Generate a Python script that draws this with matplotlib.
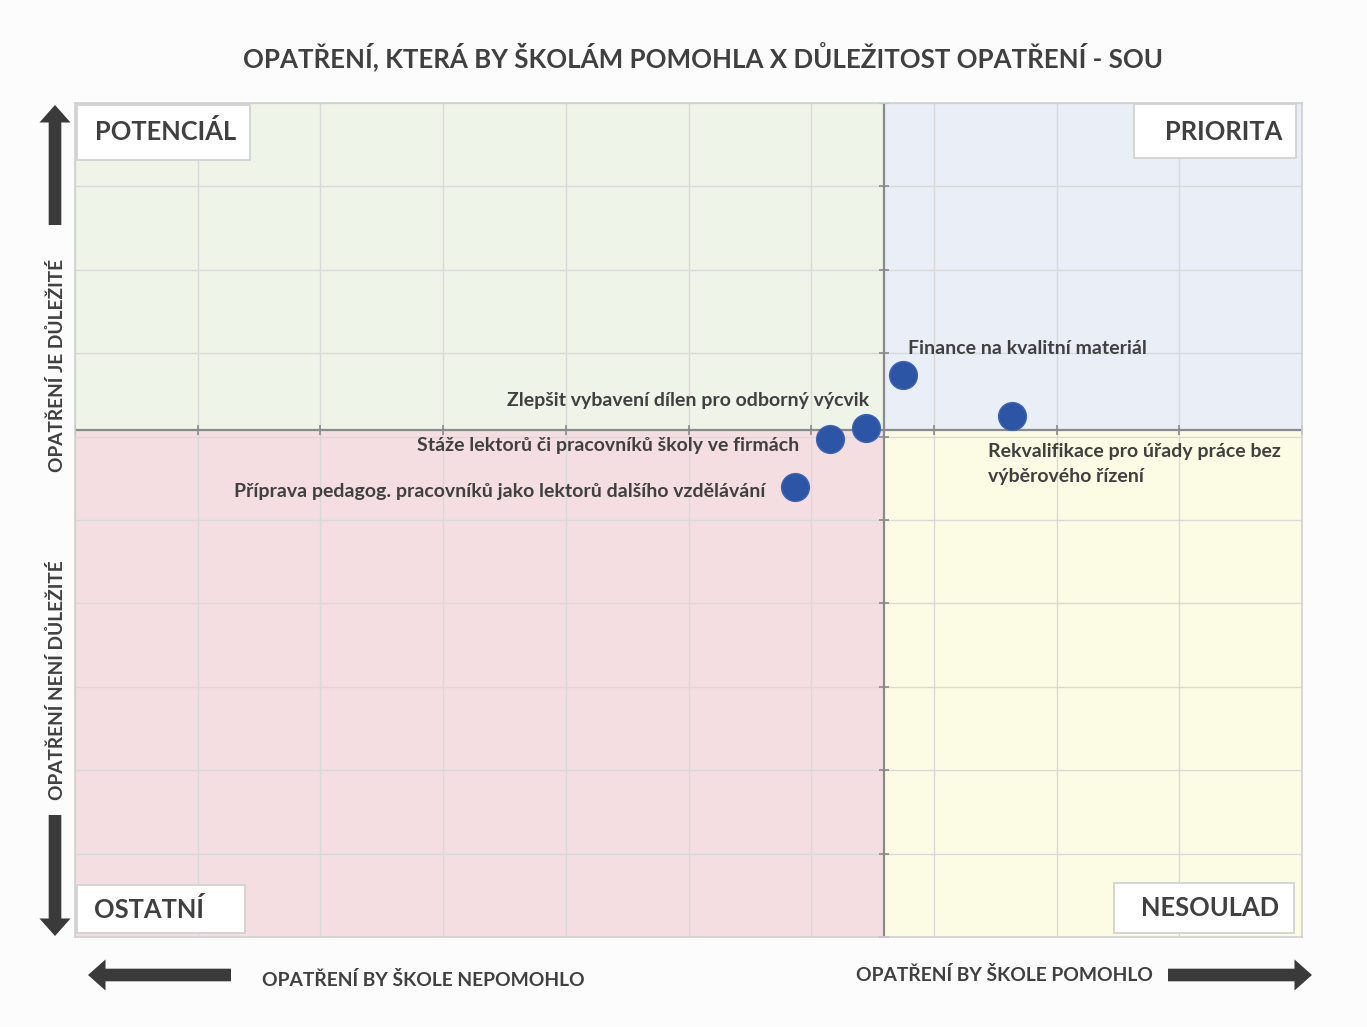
import matplotlib
matplotlib.use("Agg")
import matplotlib.pyplot as plt
from matplotlib.patches import Rectangle

# ---- data ----
title = "OPATŘENÍ, KTERÁ BY ŠKOLÁM POMOHLA X DŮLEŽITOST OPATŘENÍ - SOU"
point_labels = [
    "Finance na kvalitní materiál",
    "Rekvalifikace pro úřady práce bez\nvýběrového řízení",
    "Zlepšit vybavení dílen pro odborný výcvik",
    "Stáže lektorů či pracovníků školy ve firmách",
    "Příprava pedagog. pracovníků jako lektorů dalšího vzdělávání",
]
x_vals = [6.75, 7.64, 6.45, 6.15, 5.87]
y_vals = [6.74, 6.25, 6.10, 5.97, 5.40]
x_range = [0, 10]
y_range = [0, 10]
x_divider = 6.59
y_divider = 6.08
quadrant_names = ["POTENCIÁL", "PRIORITA", "OSTATNÍ", "NESOULAD"]
axis_texts = ["OPATŘENÍ JE DŮLEŽITÉ", "OPATŘENÍ NENÍ DŮLEŽITÉ",
              "OPATŘENÍ BY ŠKOLE NEPOMOHLO", "OPATŘENÍ BY ŠKOLE POMOHLO"]

# ---- style ----
FONT = ["Lato", "DejaVu Sans"]
plt.rcParams["font.family"] = FONT
TXT = "#404040"
W, H = 1367, 1027
fig = plt.figure(figsize=(W / 100, H / 100), dpi=100, facecolor="#FCFCFC")
ax = fig.add_axes([75 / W, 1 - 937 / H, (1302 - 75) / W, (937 - 103) / H])
ax.set_xlim(*x_range)
ax.set_ylim(*y_range)

# quadrant backgrounds
x0, x1 = x_range
y0, y1 = y_range
quad_colors = {"tl": "#EFF4E9", "tr": "#E9EEF7", "bl": "#F5DEE1", "br": "#FCFCE4"}
ax.add_patch(Rectangle((x0, y_divider), x_divider - x0, y1 - y_divider, color=quad_colors["tl"], zorder=0))
ax.add_patch(Rectangle((x_divider, y_divider), x1 - x_divider, y1 - y_divider, color=quad_colors["tr"], zorder=0))
ax.add_patch(Rectangle((x0, y0), x_divider - x0, y_divider - y0, color=quad_colors["bl"], zorder=0))
ax.add_patch(Rectangle((x_divider, y0), x1 - x_divider, y_divider - y0, color=quad_colors["br"], zorder=0))

ax.set_xticks(range(x0, x1 + 1))
ax.set_yticks(range(y0, y1 + 1))
ax.tick_params(length=0, labelbottom=False, labelleft=False)
ax.grid(True, color="#D9D9D9", lw=1.0, zorder=1)
ax.set_axisbelow(True)
for s in ax.spines.values():
    s.set_color("#D0D0D0")
    s.set_linewidth(1.2)

# divider lines with tick marks
ax.axvline(x_divider, color="#8A8A8A", lw=1.6, zorder=2)
ax.axhline(y_divider, color="#8A8A8A", lw=1.6, zorder=2)
ax.plot(list(range(x0, x1 + 1)), [y_divider] * (x1 - x0 + 1), ls="none", marker="|",
        ms=7, mew=1.2, color="#8A8A8A", zorder=2)
ax.plot([x_divider] * (y1 - y0 + 1), list(range(y0, y1 + 1)), ls="none", marker="_",
        ms=7, mew=1.2, color="#8A8A8A", zorder=2)

# points
ax.scatter(x_vals, y_vals, s=400, color="#2C55A6", edgecolors="#3A62B0", linewidths=1, zorder=5)

offsets = [(5, 26, "left"), (-24, -48, "left"), (3, 28, "right"), (-30, -6, "right"), (-30, -5, "right")]
for lab, xv, yv, (dx, dy, ha) in zip(point_labels, x_vals, y_vals, offsets):
    ax.annotate(lab, (xv, yv), xytext=(dx, dy), textcoords="offset pixels",
                ha=ha, va="center", fontsize=14, fontweight="bold", color=TXT,
                linespacing=1.55, zorder=6)

# quadrant label boxes (figure pixel rectangles) and texts
def fig_box(xl, yt, xr, yb):
    fig.add_artist(Rectangle((xl / W, 1 - yb / H), (xr - xl) / W, (yb - yt) / H,
                             transform=fig.transFigure, fc="white", ec="#D2D2D2",
                             lw=1.3, zorder=6))
fig_box(77, 105, 250, 160)
fig_box(1134, 104, 1296, 158)
fig_box(77, 885, 245, 933)
fig_box(1114, 883, 1294, 933)
qkw = dict(fontsize=18.4, fontweight="bold", color=TXT, zorder=7)
fig.text(95 / W, 1 - 132 / H, quadrant_names[0], ha="left", va="center", **qkw)
fig.text(1282 / W, 1 - 132 / H, quadrant_names[1], ha="right", va="center", **qkw)
fig.text(94 / W, 1 - 909 / H, quadrant_names[2], ha="left", va="center", **qkw)
fig.text(1279 / W, 1 - 908 / H, quadrant_names[3], ha="right", va="center", **qkw)

# title
fig.text(703 / W, 1 - 57 / H, title, ha="center", va="center", fontsize=18.6,
         fontweight="bold", color=TXT)

# axis side texts
akw = dict(color=TXT, fontweight="bold")
fig.text(57 / W, 1 - 365 / H, axis_texts[0], rotation=90, ha="center", va="center", fontsize=13.8, **akw)
fig.text(57 / W, 1 - 680 / H, axis_texts[1], rotation=90, ha="center", va="center", fontsize=13.8, **akw)
fig.text(262 / W, 1 - 980 / H, axis_texts[2], ha="left", va="center", fontsize=13.9, **akw)
fig.text(1153 / W, 1 - 975 / H, axis_texts[3], ha="right", va="center", fontsize=13.9, **akw)

# arrows (figure pixels)
arrow = dict(arrowstyle="simple,head_length=0.9,head_width=1.6,tail_width=0.65",
             color="#3A3A3A", lw=0, shrinkA=0, shrinkB=0, mutation_scale=14)
def farrow(x_from, y_from, x_to, y_to):
    fig.add_artist(matplotlib.patches.FancyArrowPatch(
        (x_from / W, 1 - y_from / H), (x_to / W, 1 - y_to / H),
        transform=fig.transFigure, **arrow))
farrow(55, 225, 55, 105)
farrow(55, 815, 55, 936)
farrow(231, 975, 88, 975)
farrow(1168, 975, 1312, 975)

fig.savefig("out.png", dpi=100, facecolor=fig.get_facecolor())
